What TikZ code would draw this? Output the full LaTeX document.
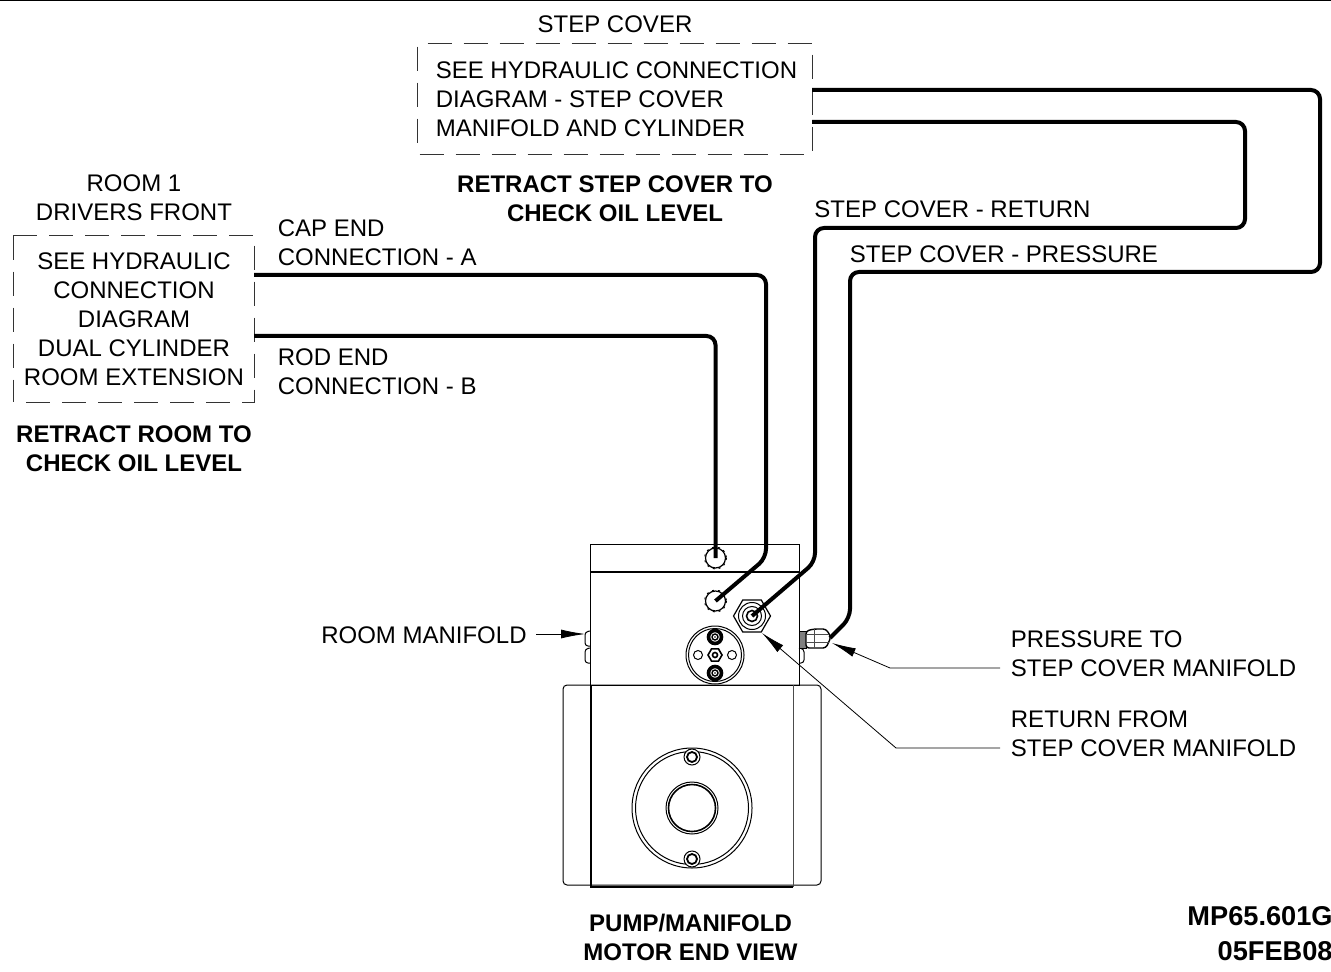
\documentclass[tikz,border=0pt]{standalone}
\usepackage{fontspec}
\setmainfont{Liberation Sans}
\usetikzlibrary{arrows.meta,shapes.geometric}
\tikzset{
  thin line/.style={line width=0.5pt,black},
  pipe/.style={line width=2pt,rounded corners=4.5pt,black},
  leader/.style={line width=0.4pt,black,-{Latex[length=12pt,width=4.5pt]}},
  boxtext/.style={inner sep=0pt,font=\fontsize{12}{14.5}\selectfont},
  boxdash/.style={line width=0.5pt,black!80,dash pattern=on 12pt off 6pt},
  lbl/.style={font=\fontsize{12}{14.5}\selectfont,inner sep=0pt,align=left},
  lblc/.style={lbl,align=center},
  blbl/.style={font=\fontsize{12}{14.5}\selectfont\bfseries,inner sep=0pt,align=center},
  port/.style={circle,draw,line width=0.6pt,minimum size=10pt,inner sep=0pt},
}
\begin{document}
\begin{tikzpicture}[x=0.5pt,y=-0.5pt]
\useasboundingbox (0,0) rectangle (1331,972);
\draw[thin line] (0,0.5) -- (1331,0.5);

% dashed boxes
\node[boxtext,minimum width=197pt,minimum height=55pt,align=left] (stepbox) at (615,99)
  {\hspace*{1.5pt}SEE HYDRAULIC CONNECTION\\\hspace*{1.5pt}DIAGRAM - STEP COVER\\\hspace*{1.5pt}MANIFOLD AND CYLINDER};
\node[boxtext,minimum width=120.5pt,minimum height=83pt,align=center] (roombox) at (134,319)
  {SEE HYDRAULIC\\CONNECTION\\DIAGRAM\\DUAL CYLINDER\\ROOM EXTENSION};
\draw[boxdash] ([xshift=5pt]stepbox.north west) -- (stepbox.north east);
\draw[boxdash] ([yshift=-1.5pt]stepbox.north west) -- (stepbox.south west);
\draw[boxdash] ([xshift=1pt]stepbox.south west) -- (stepbox.south east);
\draw[boxdash] ([yshift=-5.5pt]stepbox.north east) -- (stepbox.south east);
\draw[boxdash] (roombox.north west) -- (roombox.north east);
\draw[boxdash] (roombox.north west) -- (roombox.south west);
\draw[boxdash] ([xshift=6.5pt]roombox.south west) -- (roombox.south east);
\draw[boxdash] ([yshift=-5pt]roombox.north east) -- (roombox.south east);

% labels
\node[lblc] (tstep) at (615,24) {STEP COVER};
\node[blbl] (tretstep) at (615,199) {RETRACT STEP COVER TO\\CHECK OIL LEVEL};
\node[lblc] (troom) at (134,198) {ROOM 1\\DRIVERS FRONT};
\node[blbl] (tretroom) at (134,449) {RETRACT ROOM TO\\CHECK OIL LEVEL};
\node[lbl,anchor=west] (tcap) at (277.5,243) {CAP END\\CONNECTION - A};
\node[lbl,anchor=west] (trod) at (277.5,372) {ROD END\\CONNECTION - B};
\node[lbl,anchor=west] (tsret) at (814,209) {STEP COVER - RETURN};
\node[lbl,anchor=west] (tspr) at (849.5,254) {STEP COVER - PRESSURE};
\node[lbl,anchor=east] (tman) at (527,635) {ROOM MANIFOLD};
\node[lbl,anchor=west] (tpr) at (1010.5,654) {PRESSURE TO\\STEP COVER MANIFOLD};
\node[lbl,anchor=west] (tre) at (1010.5,734) {RETURN FROM\\STEP COVER MANIFOLD};
\node[blbl] (tpump) at (690.5,937.5) {PUMP/MANIFOLD\\MOTOR END VIEW};
\node[font=\fontsize{13.6}{17.5}\selectfont\bfseries,inner sep=0pt,align=right,anchor=east] (tmp) at (1333,934) {MP65.601G\\05FEB08};

% pump body
\draw[thin line] (590,544) rectangle (799,685);
\draw[line width=0.6pt] (590,572) -- (799,572);
\draw[thin line,rounded corners=2pt] (563,685) -- (821,685) -- (821,885) -- (563,885) -- cycle;
\draw[line width=0.6pt] (591,685) -- (591,887) -- (793,887);
\draw[line width=0.4pt,black!70] (793,685) -- (793,887);
\draw[thin line] (692,808) circle (60);
\draw[thin line] (692,808) circle (56.5);
\draw[thin line] (692,808) circle (26);
\draw[line width=0.8pt] (692,808) circle (23.5);
\foreach \yy in {757,859}{
  \draw[line width=0.5pt,fill=white] (692,\yy) circle (8);
  \draw[line width=0.9pt,fill=white] (692,\yy) circle (5);
}
% side tabs
\draw[thin line,rounded corners=1.5pt] (590,631) -- (585,632) -- (585,646) -- (590,646);
\draw[thin line,rounded corners=1.5pt] (590,648) -- (585,649) -- (585,663) -- (590,663);
\draw[thin line,rounded corners=1.5pt] (799,648) -- (804,649) -- (804,663) -- (799,663);
% pressure fitting
\draw[thin line,fill=black!50] (799,631) rectangle (806,648);
\draw[line width=0.7pt,rounded corners=1.5pt,fill=white] (806,631) -- (814,629) -- (826,629) -- (831,637) -- (826,648) -- (814,648) -- (806,648) -- cycle;
\draw[line width=0.3pt,black!70] (806,634) -- (829,634) (806,642) -- (829,642);
\draw[line width=0.3pt,black!70] (814,629) -- (814,648);
% valve circle
\draw[thin line] (715,655) circle (29);
\draw[thin line] (715,655) circle (26.5);
\draw[thin line] (698,655) circle (4.5);
\draw[thin line] (732,655) circle (4.5);
\node[regular polygon,regular polygon sides=6,draw,line width=0.8pt,minimum size=7pt,inner sep=0pt] (hexc) at (715,655) {};
\draw[line width=0.8pt] (715,655) circle (2.5);
\foreach \yy in {637,673}{
  \draw[line width=1.8pt,fill=white] (715,\yy) circle (6.5);
  \draw[line width=0.7pt] (715,\yy) circle (3);
  \fill (715,\yy) circle (0.8);
}
% ports
\node[port] (portB) at (715.5,558) {};
\node[port] (portA) at (715.5,601) {};
\draw[line width=0.5pt,dash pattern=on 1pt off 2pt] (715.5,558) circle (11);
\draw[line width=0.5pt,dash pattern=on 1pt off 2pt] (715.5,601) circle (11);
% return hex nut
\node[regular polygon,regular polygon sides=6,draw,line width=0.6pt,minimum size=18.5pt,inner sep=0pt] (nut) at (752,616) {};
\draw[thin line] (752,616) circle (13.5);
\draw[thin line] (752,616) circle (9.5);
\draw[line width=0.8pt] (752,616) circle (5.5);
\coordinate (pfit) at (830,638);

% pipes
\coordinate (capstart) at (254,275);
\coordinate (rodstart) at (254,336);
\coordinate (retstart) at (812,122);
\coordinate (prstart) at (812,90);
\draw[pipe] (capstart) -- (766,275) -- (766,558) -- (portA.center);
\draw[pipe] (rodstart) -- (715.5,336) -- (portB.center);
\draw[pipe] (retstart) -- (1245,122) -- (1245,228) -- (815,228) -- (815,562) -- (nut.center);
\draw[pipe] (prstart) -- (1320,90) -- (1320,272) -- (850,272) -- (850,618) -- (pfit);

% leaders
\coordinate (lman) at (536,634);
\coordinate (lmanend) at (585,634);
\draw[leader] (lman) -- (lmanend);
\coordinate (lpr) at (1000,668);
\coordinate (lprbend) at (890,668);
\coordinate (lprend) at (832,643);
\draw[leader] (lpr) -- (lprbend) -- (lprend);
\coordinate (lre) at (1000,748);
\coordinate (lrebend) at (896,748);
\coordinate (lreend) at (762,633);
\draw[leader] (lre) -- (lrebend) -- (lreend);
\end{tikzpicture}
\end{document}
